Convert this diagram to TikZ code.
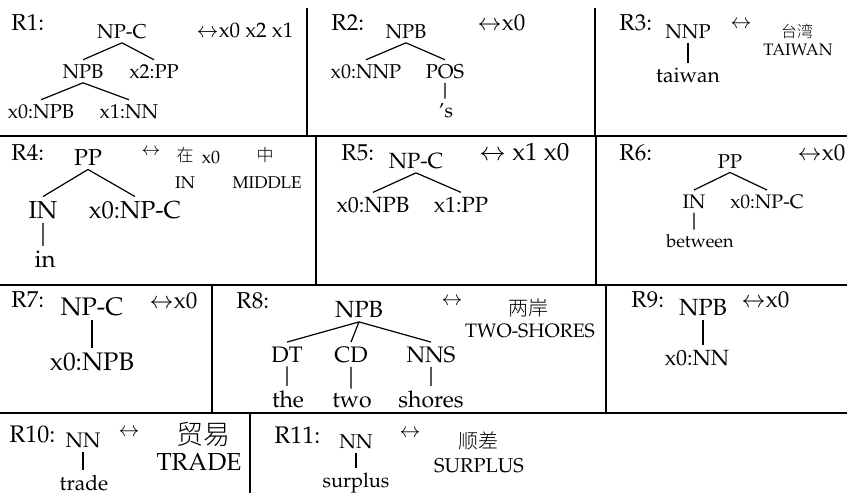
\documentclass[tikz,border=0pt]{standalone}
\usepackage[T1]{fontenc}
\usepackage{mathpazo}
\newcommand{\fs}[1]{\fontsize{#1}{#1}\selectfont}
\newcommand{\zh}[2]{{\font\zhfont="Noto Sans CJK SC Light" at #1\zhfont #2}}

\begin{document}
\begin{tikzpicture}[x=0.5pt, y=-0.5pt]
	\tikzset{every node/.style={inner sep=2pt}, cat/.style={anchor=base, font=\fs{#1}}, rlab/.style={anchor=base west, font=\fs{#1}}, rule/.style={line width=1pt}, branch/.style={line width=0.6pt}}
	\useasboundingbox (0,0) rectangle (847,493);

	% table rules
	\draw[rule] (0,136) -- (847,136) (0,285) -- (847,285) (0,413) -- (847,413);
	\draw[rule] (307,8) -- (307,136) (595,8) -- (595,136)
		(316,136) -- (316,285) (596,136) -- (596,285)
		(212,285) -- (212,413) (606,285) -- (606,413)
		(250,413) -- (250,493);

	% R1
	\node[rlab=11.5pt] (r1) at (7,30) {R1:};
	\node[cat=10pt] (npc1) at (122,38) {NP-C};
	\node[cat=10pt] (npb1) at (83,78) {NPB};
	\node[cat=10pt] (pp1) at (154,78) {x2:PP};
	\node[cat=10pt] (x01) at (41,118) {x0:NPB};
	\node[cat=10pt] (x11) at (129,118) {x1:NN};
	\node[rlab=10.5pt] (t1) at (192,37) {$\leftrightarrow$x0 x2 x1};
	\draw[branch] (npc1.south) -- (npb1.north) (npc1.south) -- (pp1.north)
		(npb1.south) -- (x01.north) (npb1.south) -- (x11.north);

	% R2
	\node[rlab=11.5pt] (r2) at (327,30) {R2:};
	\node[cat=10pt] (npb2) at (406,38) {NPB};
	\node[cat=10pt] (nnp2) at (366,78) {x0:NNP};
	\node[cat=10pt] (pos2) at (445,78) {POS};
	\node[cat=10pt] (s2) at (446,117) {'s};
	\node[rlab=11.5pt] (t2) at (473,30) {$\leftrightarrow$x0};
	\draw[branch] (npb2.south) -- (nnp2.north) (npb2.south) -- (pos2.north)
		(pos2.south) -- (pos2.south |- s2.north);

	% R3
	\node[rlab=11.5pt] (r3) at (615,30) {R3:};
	\node[cat=10pt] (nnp3) at (688,38) {NNP};
	\node[cat=10.5pt] (w3) at (688,82) {taiwan};
	\node[cat=10pt] (a3) at (741,28) {$\leftrightarrow$};
	\node[anchor=base] (zh3) at (797,37) {\zh{8pt}{台湾}};
	\node[cat=8.3pt] (en3) at (798,55) {TAIWAN};
	\draw[branch] (nnp3.south) -- (nnp3.south |- w3.north);

	% R4
	\node[rlab=11.5pt] (r4) at (7,160) {R4:};
	\node[cat=11.5pt] (pp4) at (88,165) {PP};
	\node[cat=12.3pt] (in4) at (43,218) {IN};
	\node[cat=12.3pt] (npc4) at (135,218) {x0:NP-C};
	\node[cat=12pt] (w4) at (45,267) {in};
	\node[cat=9pt] (a4) at (151,155) {$\leftrightarrow$};
	\node[anchor=base] (zh4a) at (185,161) {\zh{8.5pt}{在}};
	\node[cat=9pt] (x04) at (211,163) {x0};
	\node[anchor=base] (zh4b) at (265,161) {\zh{8.5pt}{中}};
	\node[cat=8.5pt] (en4a) at (185,188) {IN};
	\node[cat=8.5pt] (en4b) at (267,188) {MIDDLE};
	\draw[branch] (pp4.south) -- (in4.north) (pp4.south) -- (npc4.north)
		(in4.south) -- (in4.south |- w4.north);

	% R5
	\node[rlab=11.5pt] (r5) at (337,160) {R5:};
	\node[cat=11pt] (npc5) at (416,168) {NP-C};
	\node[cat=11pt] (npb5) at (373,212) {x0:NPB};
	\node[cat=11pt] (pp5) at (461,212) {x1:PP};
	\node[rlab=12.5pt] (t5) at (475,160) {$\leftrightarrow$ x1 x0};
	\draw[branch] (npc5.south) -- (npb5.north) (npc5.south) -- (pp5.north);

	% R6
	\node[rlab=11.5pt] (r6) at (615,160) {R6:};
	\node[cat=10pt] (pp6) at (730,168) {PP};
	\node[cat=9.8pt] (in6) at (694,208) {IN};
	\node[cat=9.8pt] (npc6) at (767,208) {x0:NP-C};
	\node[cat=9pt] (w6) at (700,247) {between};
	\node[rlab=11.5pt] (t6) at (793,160) {$\leftrightarrow$x0};
	\draw[branch] (pp6.south) -- (in6.north) (pp6.south) -- (npc6.north)
		(in6.south) -- (in6.south |- w6.north);

	% R7
	\node[rlab=11.5pt] (r7) at (7,307) {R7:};
	\node[cat=12.7pt] (npc7) at (92,315) {NP-C};
	\node[cat=12.7pt] (npb7) at (92,370) {x0:NPB};
	\node[rlab=11.5pt] (t7) at (145,308) {$\leftrightarrow$x0};
	\draw[branch] (npc7.south) -- (npc7.south |- npb7.north);

	% R8
	\node[rlab=11.5pt] (r8) at (232,308) {R8:};
	\node[cat=11.7pt] (npb8) at (359,317) {NPB};
	\node[cat=11.2pt] (dt8) at (287,362) {DT};
	\node[cat=11.2pt] (cd8) at (351,362) {CD};
	\node[cat=11.2pt] (nns8) at (431,362) {NNS};
	\node[cat=11.5pt] (the8) at (288,407) {the};
	\node[cat=11.5pt] (two8) at (352,407) {two};
	\node[cat=11.5pt] (sh8) at (431,407) {shores};
	\node[cat=10pt] (a8) at (452,305) {$\leftrightarrow$};
	\node[anchor=base] (zh8) at (528,315) {\zh{10pt}{两岸}};
	\node[cat=9.7pt] (en8) at (530,337) {TWO-SHORES};
	\draw[branch] (npb8.south) -- (dt8.north) (npb8.south) -- (cd8.north) (npb8.south) -- (nns8.north)
		(dt8.south) -- (dt8.south |- the8.north) (cd8.south) -- (cd8.south |- two8.north)
		(nns8.south) -- (nns8.south |- sh8.north);

	% R9
	\node[rlab=11.5pt] (r9) at (627,307) {R9:};
	\node[cat=11.7pt] (npb9) at (703,315) {NPB};
	\node[cat=11pt] (nn9) at (697,365) {x0:NN};
	\node[rlab=11.5pt] (t9) at (737,307) {$\leftrightarrow$x0};
	\draw[branch] (npb9.south) -- (npb9.south |- nn9.north);

	% R10
	\node[rlab=12pt] (r10) at (5,442) {R10:};
	\node[cat=10.5pt] (nn10) at (83,447) {NN};
	\node[cat=10.5pt] (w10) at (84,490) {trade};
	\node[cat=10pt] (a10) at (129,436) {$\leftrightarrow$};
	\node[anchor=base] (zh10) at (203,444) {\zh{13.5pt}{贸易}};
	\node[cat=12.3pt] (en10) at (199,470) {TRADE};
	\draw[branch] (nn10.south) -- (nn10.south |- w10.north);

	% R11
	\node[rlab=12pt] (r11) at (270,443) {R11:};
	\node[cat=10pt] (nn11) at (356,448) {NN};
	\node[cat=10pt] (w11) at (356,487) {surplus};
	\node[cat=10pt] (a11) at (410,437) {$\leftrightarrow$};
	\node[anchor=base] (zh11) at (478,448) {\zh{10pt}{顺差}};
	\node[cat=10pt] (en11) at (479,472) {SURPLUS};
	\draw[branch] (nn11.south) -- (nn11.south |- w11.north);
\end{tikzpicture}
\end{document}
